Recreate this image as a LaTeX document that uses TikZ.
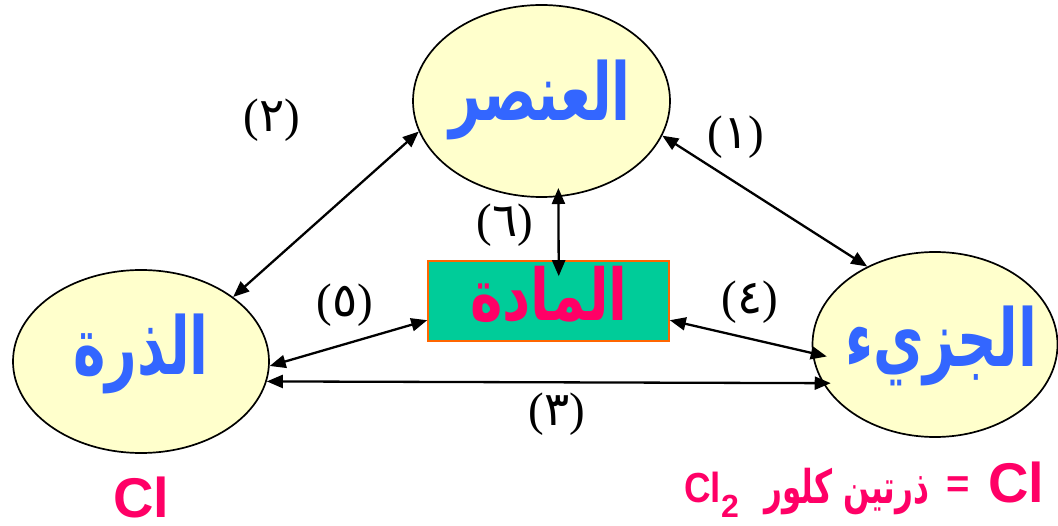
\documentclass[tikz,border=0pt]{standalone}
\usepackage{fontspec}
\usetikzlibrary{shapes.geometric,arrows.meta}
\TeXXeTstate=1
\setmainfont{Liberation Serif}
\newfontfamily\arabicfont[Script=Arabic]{DejaVu Sans}
\newfontfamily\lsans{Liberation Sans}
\definecolor{ellfill}{HTML}{FFFFCC}
\definecolor{arblue}{HTML}{3366FF}
\definecolor{pinkc}{HTML}{FF0066}
\definecolor{greenc}{HTML}{00CC99}
\definecolor{orangec}{HTML}{FF6600}
\newcommand{\artall}[1]{\scalebox{1}[1.45]{\beginR #1\endR}}
\begin{document}
\begin{tikzpicture}[x=1pt,y=-1pt,
  ell/.style={ellipse,draw=black,line width=1.7pt,fill=ellfill,inner sep=0pt},
  conn/.style={{Triangle[length=16pt,width=13pt]}-{Triangle[length=16pt,width=13pt]},line width=2.3pt},
  num/.style={font=\fontsize{47}{47}\selectfont,inner sep=0pt},
  artxt/.style={font=\fontsize{55}{55}\selectfont\arabicfont\bfseries,text=arblue,inner sep=0pt},
  cltxt/.style={font=\fontsize{56}{56}\selectfont\lsans\bfseries,text=pinkc,inner sep=0pt}]
\useasboundingbox (0,0) rectangle (1058,526);
\fill[white] (0,0) rectangle (1058,526);
% nodes
\node[ell,minimum width=257pt,minimum height=192pt] (top) at (541.5,101) {};
\node[ell,minimum width=256pt,minimum height=183pt] (left) at (141,361.5) {};
\node[ell,minimum width=245pt,minimum height=185pt] (right) at (935,344.5) {};
\node[draw=orangec,line width=1.6pt,fill=greenc,minimum width=241pt,minimum height=80pt,inner sep=0pt] (mat) at (548.5,301) {};
% texts
\node[artxt] (tTop) at (540,100) {\artall{العنصر}};
\node[artxt] (tLeft) at (141,354) {\artall{الذرة}};
\node[artxt] (tRight) at (941,346) {\artall{الجزيء}};
\node[artxt,text=pinkc] (tMat) at (549,294) {\scalebox{1}[1.3]{\beginR المادة\endR}};
% connectors
\draw[conn] (top.-16.7) -- (right.131.6);
\draw[conn] (top.194) -- (left.35.9);
\draw[conn,shorten >=-8pt] (left.-9.8) -- (right.199.1);
\draw[conn,shorten >=-15pt] (mat.-9) -- (right.184);
\draw[conn] (mat.189.9) -- (left.-2.4);
\draw[conn,shorten <=-9pt,shorten >=-16pt] (top.-80) -- (mat.76.6);
% labels
\node[num] (n1) at (736,137) {({\arabicfont ١})};
\node[num] (n2) at (272,120) {({\arabicfont ٢})};
\node[num] (n3) at (557,414) {({\arabicfont ٣})};
\node[num] (n4) at (750,302) {({\arabicfont ٤})};
\node[num] (n5) at (345,305) {({\arabicfont ٥})};
\node[num] (n6) at (505,225) {({\arabicfont ٦})};
% bottom texts
\node[cltxt,anchor=base] (clL) at (141,518) {Cl};
\node[cltxt,anchor=base] (clR) at (1016,503) {Cl};
\node[cltxt,font=\fontsize{40}{40}\selectfont\lsans\bfseries] (eq) at (958,487) {=};
\node[font=\fontsize{31}{31}\selectfont\arabicfont\bfseries,text=pinkc,inner sep=0pt] (phr) at (847,492) {\scalebox{1}[1.5]{\beginR ذرتين كلور\endR}};
\node[cltxt,font=\fontsize{40}{40}\selectfont\lsans\bfseries,anchor=base west] (cl2) at (684,503) {\scalebox{0.92}[1.05]{Cl}\raisebox{-0.36em}{\fontsize{32}{32}\selectfont 2}};
\end{tikzpicture}
\end{document}
